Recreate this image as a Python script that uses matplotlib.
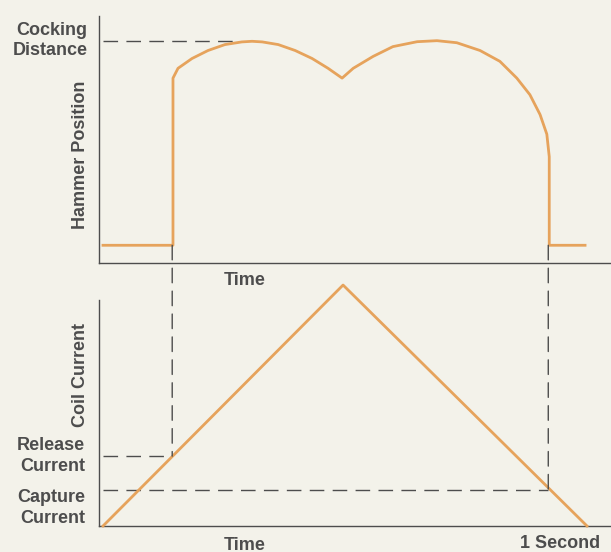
import matplotlib.pyplot as plt
from matplotlib.patches import ConnectionPatch
from matplotlib.transforms import blended_transform_factory

# =====================================================================
# Data (time in seconds, levels normalised)
# =====================================================================
hammer_t = [0.0, 0.1446, 0.1446, 0.155, 0.184, 0.217, 0.252, 0.287, 0.308,
            0.329, 0.362, 0.397, 0.432, 0.465, 0.494, 0.517, 0.558, 0.599,
            0.649, 0.690, 0.731, 0.779, 0.820, 0.855, 0.882, 0.903, 0.917,
            0.922, 0.922, 0.996]
hammer_pos = [0.0, 0.0, 0.817, 0.865, 0.913, 0.952, 0.981, 0.994, 0.997,
              0.994, 0.981, 0.952, 0.913, 0.865, 0.817, 0.865, 0.923, 0.971,
              0.995, 1.0, 0.990, 0.952, 0.899, 0.817, 0.736, 0.639, 0.543,
              0.433, 0.0, 0.0]

current_t = [0.0, 0.496, 1.0]
current_val = [0.0, 1.0, 0.0]

cocking_distance = 1.0
cocking_t = 0.283
release_time = 0.143
release_current = 0.29
capture_time = 0.92
capture_current = 0.15

BG = "#f3f2ea"
ORANGE = "#e6a35c"
INK = "#4d4d4d"
FONT = "Liberation Sans"

plt.rcParams["font.family"] = [FONT, "DejaVu Sans"]

fig = plt.figure(figsize=(6.11, 5.52), dpi=100, facecolor=BG)

# axes placement (figure fractions)
xlim = (-0.0083, 1.0496)
ax_top = fig.add_axes([0.162, 0.5236, 0.838, 0.4583])
ax_bot = fig.add_axes([0.162, 0.0471, 0.838, 0.4601])

for ax in (ax_top, ax_bot):
    ax.set_facecolor("none")
    ax.set_xlim(*xlim)
    ax.set_xticks([])
    ax.set_yticks([])
    for side in ("top", "right"):
        ax.spines[side].set_visible(False)
    for side in ("left", "bottom"):
        ax.spines[side].set_color(INK)
        ax.spines[side].set_linewidth(1.0)

# pos 0 -> hammer rest level, 1 -> cocking distance
ax_top.set_ylim(-0.0865, 1.15)
ax_top.spines["left"].set_bounds(-0.0865, 1.12)
ax_bot.set_ylim(0, 1.054)
ax_bot.spines["left"].set_bounds(0, 0.938)

dash = dict(color=INK, lw=1.0, linestyle=(0, (10.5, 6)))

# hammer position trace
ax_top.plot(hammer_t, hammer_pos, color=ORANGE, lw=2.0, solid_joinstyle="round",
            clip_on=False, zorder=3)
ax_top.plot([0, cocking_t], [cocking_distance, cocking_distance], **dash)

# coil current trace
ax_bot.plot(current_t, current_val, color=ORANGE, lw=2.0, clip_on=False, zorder=3)
ax_bot.plot([0, release_time], [release_current, release_current], **dash)
ax_bot.plot([0, capture_time], [capture_current, capture_current], **dash)

# vertical dashed connectors between the two panels
for t, level in [(release_time, release_current), (capture_time, capture_current)]:
    con = ConnectionPatch(xyA=(t, 0.0), coordsA=ax_top.transData,
                          xyB=(t, level), coordsB=ax_bot.transData, **dash)
    fig.add_artist(con)

txt = dict(color=INK, fontsize=13, fontweight="bold", linespacing=1.25)

tr_top = blended_transform_factory(ax_top.transAxes, ax_top.transData)
tr_bot = blended_transform_factory(ax_bot.transAxes, ax_bot.transData)
tr_top_x = blended_transform_factory(ax_top.transData, ax_top.transAxes)
tr_bot_x = blended_transform_factory(ax_bot.transData, ax_bot.transAxes)

ax_top.text(-0.022, cocking_distance, "Cocking\nDistance", ha="right", va="center",
            transform=tr_top, **txt)
ax_top.text(-0.037, 0.444, "Hammer Position", ha="center", va="center",
            rotation=90, transform=tr_top, **txt)
ax_top.text(0.293, -0.07, "Time", ha="center", va="center", transform=tr_top_x, **txt)

ax_bot.text(-0.037, 0.627, "Coil Current", ha="center", va="center",
            rotation=90, transform=tr_bot, **txt)
ax_bot.text(-0.027, release_current, "Release\nCurrent", ha="right", va="center",
            transform=tr_bot, **txt)
ax_bot.text(-0.027, capture_current / 2, "Capture\nCurrent", ha="right", va="center",
            transform=tr_bot, **txt)
ax_bot.text(0.293, -0.075, "Time", ha="center", va="center", transform=tr_bot_x, **txt)
ax_bot.text(0.944, -0.067, "1 Second", ha="center", va="center", transform=tr_bot_x, **txt)

fig.savefig("out.png", dpi=100, facecolor=BG)
